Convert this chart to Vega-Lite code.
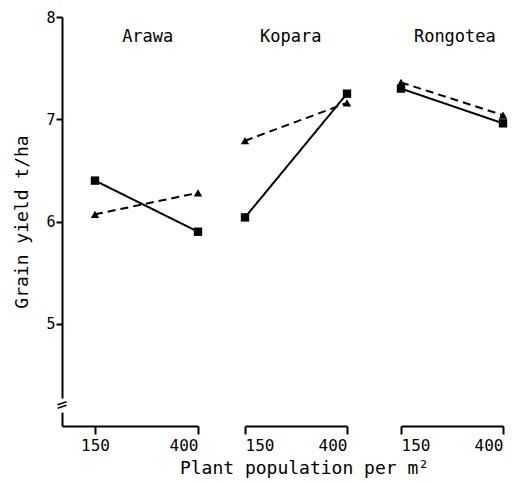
{
  "$schema": "https://vega.github.io/schema/vega-lite/v6.json",
  "padding": {"left": 13, "top": 10, "right": 5, "bottom": 5},
  "background": "white",
  "config": {
    "view": {"stroke": null},
    "font": "DejaVu Sans Mono",
    "axis": {
      "grid": false,
      "domainColor": "black",
      "domainWidth": 2,
      "tickColor": "black",
      "tickWidth": 2,
      "labelColor": "black",
      "titleColor": "black",
      "labelFont": "DejaVu Sans Mono",
      "titleFont": "DejaVu Sans Mono",
      "titleFontWeight": "normal",
      "labelFontSize": 16,
      "titleFontSize": 18,
      "format": "d"
    },
    "text": {"font": "DejaVu Sans Mono", "fontSize": 17, "color": "black"}
  },
  "datasets": {
    "yield": [
      {"cultivar": "Arawa", "density": 150, "series": "A", "yield": 6.40},
      {"cultivar": "Arawa", "density": 400, "series": "A", "yield": 5.90},
      {"cultivar": "Arawa", "density": 150, "series": "B", "yield": 6.07},
      {"cultivar": "Arawa", "density": 400, "series": "B", "yield": 6.28},
      {"cultivar": "Kopara", "density": 150, "series": "A", "yield": 6.04},
      {"cultivar": "Kopara", "density": 400, "series": "A", "yield": 7.25},
      {"cultivar": "Kopara", "density": 150, "series": "B", "yield": 6.79},
      {"cultivar": "Kopara", "density": 400, "series": "B", "yield": 7.16},
      {"cultivar": "Rongotea", "density": 150, "series": "A", "yield": 7.30},
      {"cultivar": "Rongotea", "density": 400, "series": "A", "yield": 6.96},
      {"cultivar": "Rongotea", "density": 150, "series": "B", "yield": 7.36},
      {"cultivar": "Rongotea", "density": 400, "series": "B", "yield": 7.04}
    ]
  },
  "spacing": 47,
  "bounds": "flush",
  "hconcat": [
    {
      "width": 136,
      "height": 409,
      "layer": [
        {
          "data": {"name": "yield"},
          "transform": [{"filter": "datum.cultivar === 'Arawa'"}],
          "mark": {"type": "line", "color": "black", "strokeWidth": 2},
          "encoding": {
            "x": {"field": "density", "type": "quantitative", "scale": {"domain": [70, 400], "nice": false, "zero": false},
                  "axis": {"values": [150, 400], "title": null, "tickSize": 8, "labelPadding": 3, "format": "d"}},
            "y": {"field": "yield", "type": "quantitative", "scale": {"domain": [4, 8], "nice": false, "zero": false},
                  "axis": {"values": [5, 6, 7, 8], "title": "Grain yield t/ha", "tickSize": 6, "labelPadding": 1, "labelFontSize": 15, "titlePadding": 14, "format": "d"}},
            "strokeDash": {"field": "series", "type": "nominal", "scale": {"domain": ["A", "B"], "range": [[1, 0], [8, 5]]}, "legend": null}
          }
        },
        {
          "data": {"name": "yield"},
          "transform": [{"filter": "datum.cultivar === 'Arawa'"}],
          "mark": {"type": "point", "filled": true, "color": "black", "opacity": 1, "size": 70},
          "encoding": {
            "x": {"field": "density", "type": "quantitative", "title": null},
            "y": {"field": "yield", "type": "quantitative", "title": "Grain yield t/ha"},
            "shape": {"field": "series", "type": "nominal", "scale": {"domain": ["A", "B"], "range": ["square", "triangle-up"]}, "legend": null}
          }
        },
        {
          "data": {"values": [{"cultivar": "Arawa"}]},
          "mark": {"type": "point", "shape": "M-0.6,-1H0.6V1H-0.6Z", "filled": true, "color": "white", "opacity": 1, "size": 200},
          "encoding": {"x": {"datum": 70, "type": "quantitative"}, "y": {"datum": 4.2, "type": "quantitative"}}
        },
        {
          "data": {"values": [{"cultivar": "Arawa"}]},
          "mark": {"type": "point", "shape": "M-0.9,-0.15L0.9,-0.75M-0.9,0.55L0.9,-0.05", "filled": false, "color": "black", "strokeWidth": 1.5, "opacity": 1, "size": 100},
          "encoding": {"x": {"datum": 70, "type": "quantitative"}, "y": {"datum": 4.2, "type": "quantitative"}}
        },
        {
          "data": {"values": [{"cultivar": "Arawa"}]},
          "mark": {"type": "text", "align": "center", "baseline": "middle"},
          "encoding": {"x": {"datum": 278, "type": "quantitative"}, "y": {"datum": 7.8, "type": "quantitative"}, "text": {"field": "cultivar"}}
        }
      ]
    },
    {
      "spacing": 54,
      "bounds": "flush",
      "hconcat": [
        {
          "width": 102,
          "height": 409,
          "layer": [
            {
              "data": {"name": "yield"},
              "transform": [{"filter": "datum.cultivar === 'Kopara'"}],
              "mark": {"type": "line", "color": "black", "strokeWidth": 2},
              "encoding": {
                "x": {"field": "density", "type": "quantitative", "scale": {"domain": [150, 400], "nice": false, "zero": false},
                      "axis": {"values": [150, 400], "title": "Plant population per m²", "titleFontSize": 18, "titlePadding": 6, "titleX": 59, "tickSize": 8, "labelPadding": 3}},
                "y": {"field": "yield", "type": "quantitative", "scale": {"domain": [4, 8], "nice": false, "zero": false}, "axis": null},
                "strokeDash": {"field": "series", "type": "nominal", "scale": {"domain": ["A", "B"], "range": [[1, 0], [8, 5]]}, "legend": null}
              }
            },
            {
              "data": {"name": "yield"},
              "transform": [{"filter": "datum.cultivar === 'Kopara'"}],
              "mark": {"type": "point", "filled": true, "color": "black", "opacity": 1, "size": 70},
              "encoding": {
                "x": {"field": "density", "type": "quantitative", "title": "Plant population per m²"},
                "y": {"field": "yield", "type": "quantitative"},
                "shape": {"field": "series", "type": "nominal", "scale": {"domain": ["A", "B"], "range": ["square", "triangle-up"]}, "legend": null}
              }
            },
            {
              "data": {"values": [{"cultivar": "Kopara"}]},
              "mark": {"type": "text", "align": "center", "baseline": "middle"},
              "encoding": {"x": {"datum": 262, "type": "quantitative"}, "y": {"datum": 7.8, "type": "quantitative"}, "text": {"field": "cultivar"}}
            }
          ]
        },
        {
          "width": 102,
          "height": 409,
          "layer": [
            {
              "data": {"name": "yield"},
              "transform": [{"filter": "datum.cultivar === 'Rongotea'"}],
              "mark": {"type": "line", "color": "black", "strokeWidth": 2},
              "encoding": {
                "x": {"field": "density", "type": "quantitative", "scale": {"domain": [150, 400], "nice": false, "zero": false},
                      "axis": {"values": [150, 400], "title": null, "tickSize": 8, "labelPadding": 3}},
                "y": {"field": "yield", "type": "quantitative", "scale": {"domain": [4, 8], "nice": false, "zero": false}, "axis": null},
                "strokeDash": {"field": "series", "type": "nominal", "scale": {"domain": ["A", "B"], "range": [[1, 0], [8, 5]]}, "legend": null}
              }
            },
            {
              "data": {"name": "yield"},
              "transform": [{"filter": "datum.cultivar === 'Rongotea'"}],
              "mark": {"type": "point", "filled": true, "color": "black", "opacity": 1, "size": 70},
              "encoding": {
                "x": {"field": "density", "type": "quantitative", "title": null},
                "y": {"field": "yield", "type": "quantitative"},
                "shape": {"field": "series", "type": "nominal", "scale": {"domain": ["A", "B"], "range": ["square", "triangle-up"]}, "legend": null}
              }
            },
            {
              "data": {"values": [{"cultivar": "Rongotea"}]},
              "mark": {"type": "text", "align": "center", "baseline": "middle"},
              "encoding": {"x": {"datum": 282, "type": "quantitative"}, "y": {"datum": 7.8, "type": "quantitative"}, "text": {"field": "cultivar"}}
            }
          ]
        }
      ]
    }
  ]
}
